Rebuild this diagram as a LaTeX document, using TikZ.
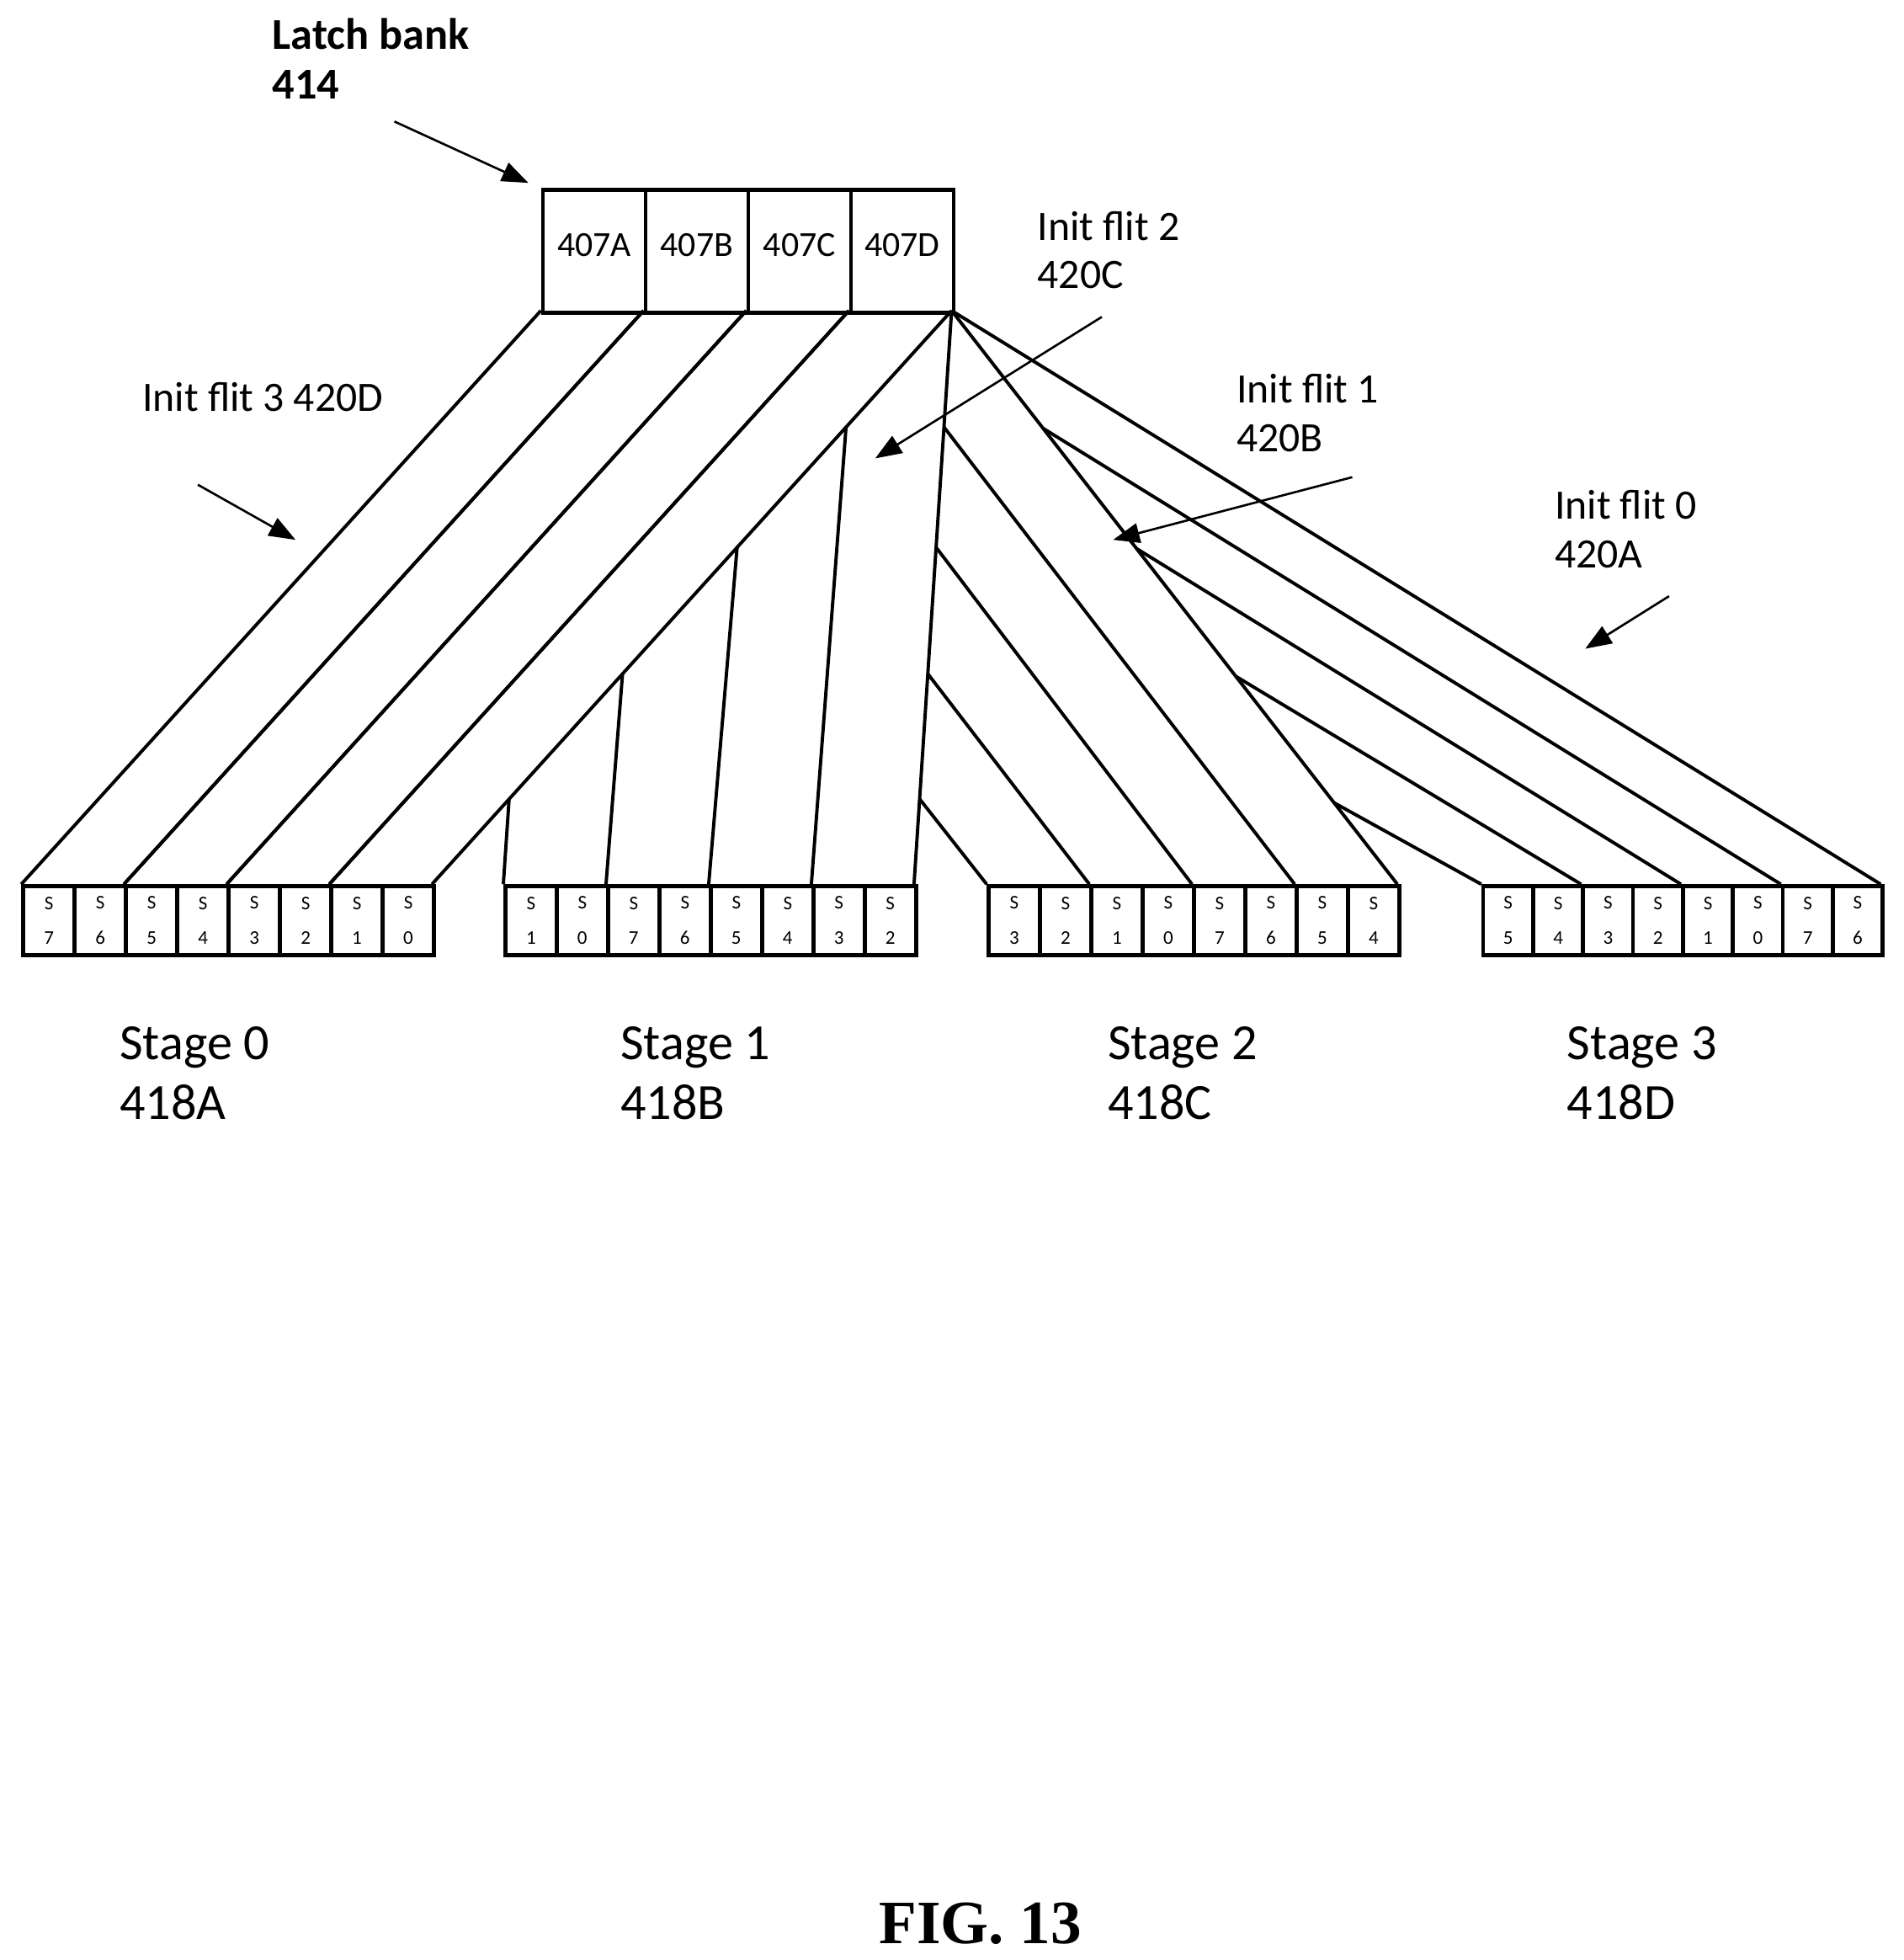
\documentclass[tikz,border=0pt]{standalone}
\usepackage{fontspec}
\setmainfont{Carlito}
\usetikzlibrary{arrows.meta,calc}
\begin{document}
\begin{tikzpicture}[x=0.01cm,y=-0.01cm,
  wire/.style={line width=0.75pt},
  lbl/.style={font=\fontsize{9.5}{11}\selectfont,align=left,anchor=west,inner sep=0pt},
  ptr/.style={line width=0.5pt,-{Triangle[length=6pt,width=4.5pt]}},
  cell/.style={font=\fontsize{4.4}{6}\selectfont,align=center,inner sep=0pt}]
\useasboundingbox (0,0) rectangle (1520,1565);
% latch bank
\foreach \n/\l [count=\i from 0] in {A/407A,B/407B,C/407C,D/407D}{
  \node[draw,line width=0.9pt,minimum width=82*0.01cm,minimum height=98*0.01cm,inner sep=0pt,anchor=north west,font=\fontsize{8}{9}\selectfont] (L\n) at ({432+82*\i},150) {\raisebox{3pt}{\l}};
}
\node[font=\bfseries\fontsize{10}{11.3}\selectfont,align=left,anchor=north west,inner sep=0pt] (lb) at (217,14) {Latch bank\\414};
\coordinate (lbs) at (315,97); \coordinate (lbe) at (422,146);
\draw[ptr] (lbs) -- (lbe);
% stage cells
\foreach \st/\x/\w/\labs in {0/17/41/{7,6,5,4,3,2,1,0},1/402/41/{1,0,7,6,5,4,3,2},2/788/41/{3,2,1,0,7,6,5,4},3/1183/39.875/{5,4,3,2,1,0,7,6}}{
  \foreach \d [count=\j from 0] in \labs {
    \node[draw,line width=0.9pt,minimum width=\w*0.01cm,minimum height=55*0.01cm,inner sep=0pt,anchor=north west] (S\st-\j) at ({\x+\w*\j},706) {};
    \node[cell] at (S\st-\j.center) {S\\[2pt]\d};
  }
}
\coordinate (top) at (760,248);
\foreach \i in {0,...,3}{
  \coordinate (bl\i) at ({432+82*\i},248);
  \coordinate (br\i) at ({514+82*\i},248);
  \coordinate (tl\i) at ({17+82*\i},706);
  \coordinate (tr\i) at ({99+82*\i},706);
  \draw[wire] (bl\i) -- (tl\i);
  \draw[wire] (br\i) -- (tr\i);
}
\coordinate (e1) at (730,706); \coordinate (e2) at (1116,706); \coordinate (e3) at (1502,706);
\draw[wire] (top) -- (e1);
\draw[wire] (top) -- (e2);
\draw[wire] (top) -- (e3);
\foreach \px/\py/\tx in {406.6/638/402,497.2/538/484,588.7/437/566,675.7/341/648}{
  \coordinate (p) at (\px,\py); \coordinate (q) at (\tx,706);
  \draw[wire] (p) -- (q);}
\foreach \px/\py/\tx in {734.5/638/788,741/538/870,747.6/437/952,753.9/341/1034}{
  \coordinate (p) at (\px,\py); \coordinate (q) at (\tx,706);
  \draw[wire] (p) -- (q);}
\foreach \py/\tx in {641/1183,540/1262.75,438/1342.5,342/1422.25}{
  \coordinate (p) at ($(top)!{(\py-248)/458}!(e2)$); \coordinate (q) at (\tx,706);
  \draw[wire] (p) -- (q);}
% labels
\node[lbl] (f3) at (113,317) {Init flit 3 420D};
\coordinate (f3s) at (158,387); \coordinate (f3e) at (236,431); \draw[ptr] (f3s) -- (f3e);
\node[lbl,anchor=north west] (f2) at (828,168) {Init flit 2\\420C};
\coordinate (f2s) at (880,253); \coordinate (f2e) at (699,366); \draw[ptr] (f2s) -- (f2e);
\node[lbl,anchor=north west] (f1) at (987,298) {Init flit 1\\420B};
\coordinate (f1s) at (1080,381); \coordinate (f1e) at (889,431); \draw[ptr] (f1s) -- (f1e);
\node[lbl,anchor=north west] (f0) at (1241,391) {Init flit 0\\420A};
\coordinate (f0s) at (1333,476); \coordinate (f0e) at (1266,518); \draw[ptr] (f0s) -- (f0e);
\foreach \n/\x/\s/\c in {a/95/0/A,b/495/1/B,c/884/2/C,d/1251/3/D}{
  \node[lbl,font=\fontsize{11.5}{13.6}\selectfont,anchor=north west] (st\n) at (\x,819) {Stage \s\\418\c};
}
\node[font=\bfseries\fontsize{14}{16}\selectfont,inner sep=0pt] (fig) at (783,1536) {\fontspec{Liberation Serif}FIG. 13};
\end{tikzpicture}
\end{document}
